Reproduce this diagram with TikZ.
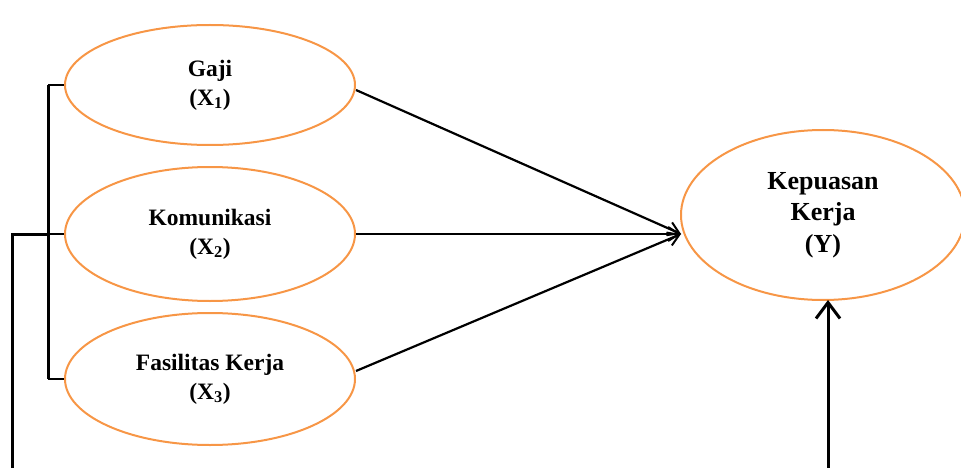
\documentclass[tikz,border=0pt]{standalone}
\usepackage{fontspec}
\setmainfont{Liberation Serif}
\usetikzlibrary{shapes.geometric,arrows.meta}
\definecolor{lorange}{RGB}{247,150,70}
\tikzset{
  var/.style={ellipse, draw=lorange, line width=2pt, align=center, inner sep=0pt,
    font=\fontsize{23.5}{29}\selectfont\bfseries},
  bigvar/.style={var, font=\fontsize{26}{31.5}\selectfont\bfseries},
  conn/.style={line width=2.2pt, -{Straight Barb[length=11pt,width=14pt,line width=2pt]}},
  brk/.style={line width=3pt},
  tick/.style={line width=2.2pt},
}
\begin{document}
\begin{tikzpicture}[x=1pt,y=-1pt]
\useasboundingbox (0,0) rectangle (961,468);
\node[var, minimum width=290pt, minimum height=120pt] (g) at (210,85) {Gaji\\(X\textsubscript{1})};
\node[var, minimum width=290pt, minimum height=134pt] (k) at (210,234) {Komunikasi\\(X\textsubscript{2})};
\node[var, minimum width=290pt, minimum height=132pt] (f) at (210,379) {Fasilitas Kerja\\(X\textsubscript{3})};
\node[bigvar, minimum width=284pt, minimum height=170pt] (y) at (823,215) {Kepuasan\\Kerja\\(Y)};
\coordinate (b) at (48,0);
\coordinate (s) at (12,234);
\coordinate (sb) at (12,468);
\coordinate (t) at (681,234);
\coordinate (vb) at (828,468);
\coordinate (vt) at (828,300);
% bracket
\draw[brk] (g.west -| b) -- (f.west -| b);
\draw[tick] (g.west -| b) -- (g.west);
\draw[tick] (k.west -| b) -- (k.west);
\draw[tick] (f.west -| b) -- (f.west);
\draw[brk] (sb) -- (s) -- (s -| b);
% arrows
\draw[conn] (g.east) ++(0,5) -- (t);
\draw[conn] (k.east) -- (t);
\draw[conn] (f.east) ++(0,-8) -- (t);
\draw[line width=3pt, -{Straight Barb[length=16pt,width=24pt,line width=3pt]}] (vb) -- (vt);
\end{tikzpicture}
\end{document}
